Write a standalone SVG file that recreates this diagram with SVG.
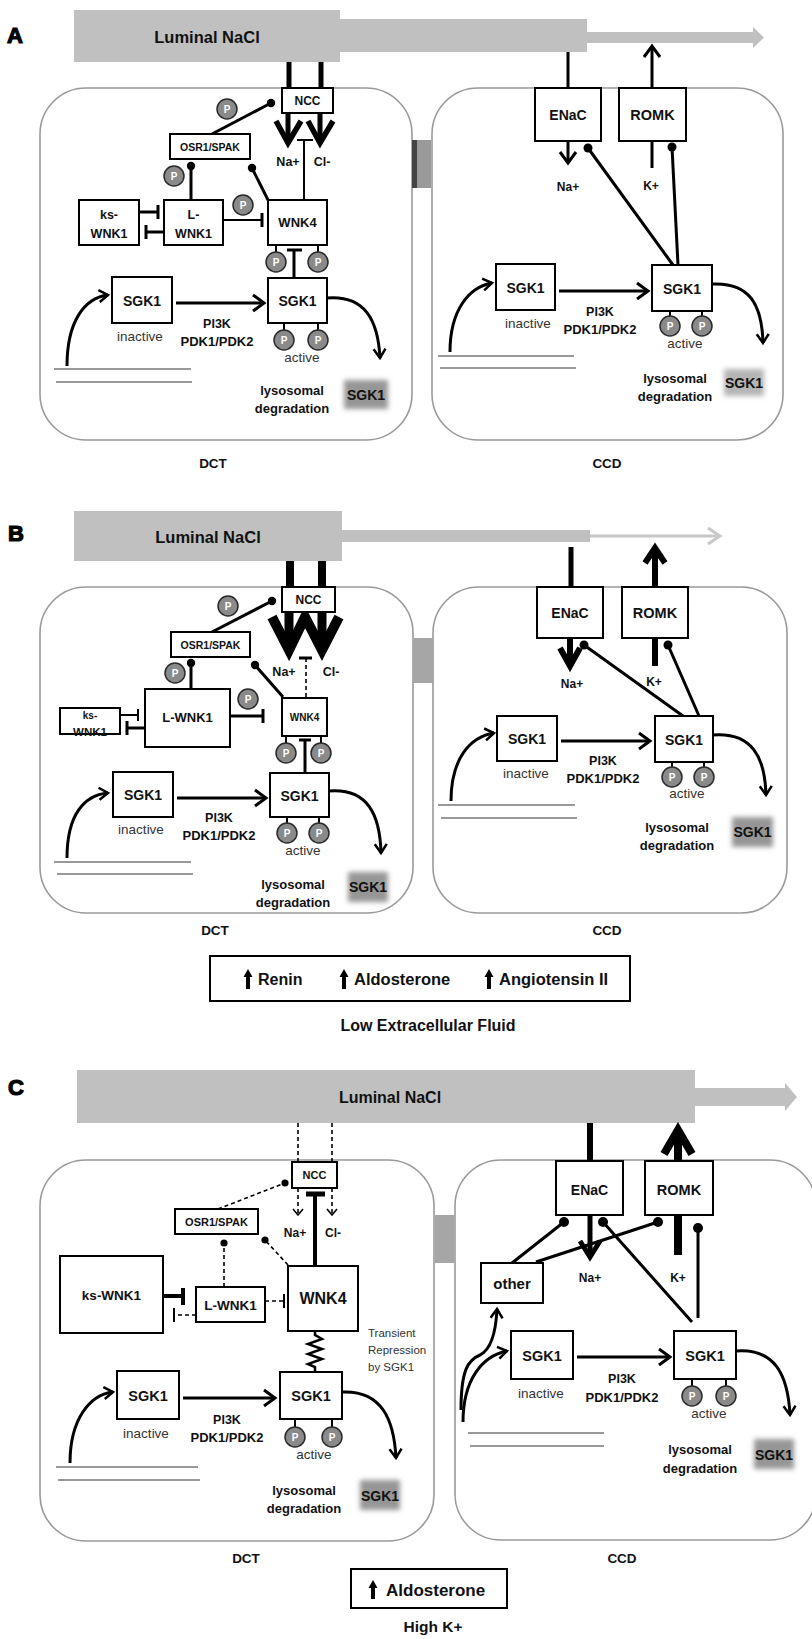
<svg xmlns="http://www.w3.org/2000/svg" width="812" height="1639" viewBox="0 0 812 1639">
<style>
.cell{fill:none;stroke:#9a9a9a;stroke-width:1.6}
.box{fill:#fff;stroke:#000;stroke-width:2}
.t{font-family:"Liberation Sans",Arial,sans-serif;font-weight:bold;fill:#111;text-anchor:middle}
.r{font-weight:normal;fill:#333}
.ln{stroke:#000;stroke-width:3;fill:none}
.thin{stroke:#000;stroke-width:2;fill:none}
.dash{stroke:#000;stroke-width:1.6;fill:none;stroke-dasharray:4 3}
.pc{fill:#8a8a8a;stroke:#2a2a2a;stroke-width:1.5}
.pt{fill:#fff;font-size:10px}
.bar{fill:#c0c0c0}
.deg{fill:#969696;filter:url(#blur)}
.dot{fill:#000}
.gl{stroke:#777;stroke-width:1.5}
.big{font-size:22px;text-anchor:start;fill:#000;stroke:#000;stroke-width:1.2}
</style>
<defs>
<filter id="blur" x="-30%" y="-30%" width="160%" height="160%"><feGaussianBlur stdDeviation="2.5"/></filter>
<marker id="arr" viewBox="-2 -2 16 20" refX="11" refY="8" markerWidth="16" markerHeight="20" markerUnits="userSpaceOnUse" orient="auto"><path d="M0,0 L11,8 L0,16" fill="none" stroke="#000" stroke-width="3"/></marker>
<marker id="arrs" viewBox="-2 -2 14 16" refX="9" refY="6" markerWidth="14" markerHeight="16" markerUnits="userSpaceOnUse" orient="auto"><path d="M0,0 L9,6 L0,12" fill="none" stroke="#000" stroke-width="2.5"/></marker>
<marker id="arrd" viewBox="-2 -2 12 14" refX="6" refY="5" markerWidth="12" markerHeight="14" markerUnits="userSpaceOnUse" orient="auto"><path d="M0,0 L6,5 L0,10" fill="none" stroke="#000" stroke-width="1.6"/></marker>
</defs>
<rect width="812" height="1639" fill="#fff"/>

<!-- ================= PANEL A ================= -->
<g id="panelA">
<text class="t big" x="7" y="43">A</text>
<g id="A-lumen">
<rect class="bar" x="74" y="10" width="266" height="52"/>
<rect class="bar" x="340" y="19" width="247" height="33"/>
<rect class="bar" x="587" y="32" width="166" height="11"/>
<polygon class="bar" points="753,27 764,37.5 753,48"/>
<text class="t" x="207" y="43" font-size="16.5">Luminal NaCl</text>
</g>
<rect id="A-dct" class="cell" x="40" y="88" width="372" height="352" rx="46"/>
<rect id="A-ccd" class="cell" x="432" y="88" width="351" height="352" rx="46"/>
<g id="A-junction"><rect x="412" y="140" width="19" height="48" fill="#9a9a9a"/><rect x="412" y="140" width="5" height="48" fill="#444"/></g>

<g id="A-connectors">
<line x1="289" y1="62" x2="289" y2="90" stroke="#000" stroke-width="5"/>
<line x1="321" y1="62" x2="321" y2="90" stroke="#000" stroke-width="5"/>
<line x1="288" y1="113" x2="288" y2="142" stroke="#000" stroke-width="5"/>
<line x1="320" y1="113" x2="320" y2="142" stroke="#000" stroke-width="5"/>
<polyline points="276,121 288,143 301,121" fill="none" stroke="#000" stroke-width="5.5"/>
<polyline points="308,121 320,143 333,121" fill="none" stroke="#000" stroke-width="5.5"/>
<line class="thin" x1="304" y1="200" x2="304" y2="140"/>
<line class="thin" x1="297" y1="140" x2="313" y2="140"/>
<line class="ln" x1="212" y1="134" x2="271" y2="103"/><circle class="dot" cx="271" cy="103" r="4.2"/>
<line class="ln" x1="191" y1="200" x2="191" y2="166"/><circle class="dot" cx="191" cy="166" r="4.2"/>
<line class="ln" x1="268" y1="200" x2="252" y2="168"/><circle class="dot" cx="252" cy="168" r="4.2"/>
<line class="ln" x1="139" y1="212" x2="158" y2="212" stroke-width="2.5"/><line class="ln" x1="158" y1="205" x2="158" y2="219"/>
<line class="ln" x1="164" y1="232" x2="146" y2="232"/><line class="ln" x1="146" y1="225" x2="146" y2="239" stroke-width="4"/>
<line class="thin" x1="223" y1="220" x2="262" y2="220"/><line class="ln" x1="262" y1="213" x2="262" y2="227" stroke-width="2.5"/>
<line class="ln" x1="294" y1="278" x2="294" y2="250"/><line class="ln" x1="287" y1="250" x2="302" y2="250"/>
<line class="ln" x1="176" y1="303" x2="264" y2="303" marker-end="url(#arr)"/>
<path class="ln" d="M67,366 C67,322 84,298 108,295" stroke-width="2.5" marker-end="url(#arrs)"/>
<path class="ln" d="M327,298 C365,295 378,320 380,358" stroke-width="2.5" marker-end="url(#arrs)"/>
<line class="gl" x1="54" y1="369" x2="191" y2="369"/><line class="gl" x1="56" y1="382" x2="192" y2="382"/>
<!-- CCD -->
<line class="ln" x1="568" y1="52" x2="568" y2="88"/>
<line class="ln" x1="652" y1="88" x2="652" y2="46" marker-end="url(#arr)"/>
<line class="ln" x1="568" y1="141" x2="568" y2="163" marker-end="url(#arr)"/>
<line class="ln" x1="652" y1="141" x2="652" y2="168"/>
<line class="ln" x1="673" y1="265" x2="588" y2="148"/><circle class="dot" cx="588" cy="148" r="4.5"/>
<line class="ln" x1="678" y1="265" x2="672" y2="147"/><circle class="dot" cx="672" cy="147" r="4.5"/>
<line class="ln" x1="559" y1="291" x2="648" y2="291" marker-end="url(#arr)"/>
<path class="ln" d="M450,352 C450,310 469,287 492,283" stroke-width="2.5" marker-end="url(#arrs)"/>
<path class="ln" d="M712,284 C750,282 762,305 763,343" stroke-width="2.5" marker-end="url(#arrs)"/>
<line class="gl" x1="438" y1="356" x2="574" y2="356"/><line class="gl" x1="440" y1="368" x2="576" y2="368"/>
</g>

<g id="A-NCC"><rect class="box" x="282" y="88" width="51" height="25"/><text class="t" x="307.5" y="105" font-size="12">NCC</text></g>
<g id="A-OSR1"><rect class="box" x="170" y="134" width="80" height="25"/><text class="t" x="210" y="151" font-size="10.5">OSR1/SPAK</text></g>
<g id="A-ksWNK1"><rect class="box" x="79" y="200" width="60" height="45"/><text class="t" x="109" y="219" font-size="12.5">ks-</text><text class="t" x="109" y="238" font-size="12.5">WNK1</text></g>
<g id="A-LWNK1"><rect class="box" x="164" y="200" width="59" height="45"/><text class="t" x="193.5" y="219" font-size="12.5">L-</text><text class="t" x="193.5" y="238" font-size="12.5">WNK1</text></g>
<g id="A-WNK4"><rect class="box" x="268" y="200" width="59" height="45"/><text class="t" x="297.5" y="227" font-size="13">WNK4</text>
<line class="thin" x1="276" y1="245" x2="276" y2="253" stroke-width="1.5"/><line class="thin" x1="318" y1="245" x2="318" y2="253" stroke-width="1.5"/></g>
<g id="A-SGK1in"><rect class="box" x="112" y="277" width="60" height="46"/><text class="t" x="142" y="306" font-size="14">SGK1</text><text class="t r" x="140" y="341" font-size="13.5">inactive</text></g>
<g id="A-SGK1act"><rect class="box" x="268" y="278" width="59" height="45"/><text class="t" x="297.5" y="306" font-size="14">SGK1</text>
<line class="thin" x1="284" y1="323" x2="284" y2="331" stroke-width="1.5"/><line class="thin" x1="318" y1="323" x2="318" y2="331" stroke-width="1.5"/>
<text class="t r" x="302" y="362" font-size="13.5">active</text></g>
<g id="A-pi3k"><text class="t" x="217" y="328" font-size="12.5">PI3K</text><text class="t" x="217" y="346" font-size="13">PDK1/PDK2</text></g>
<g id="A-deg"><text class="t" x="292" y="395" font-size="13">lysosomal</text><text class="t" x="292" y="413" font-size="13">degradation</text>
<rect class="deg" x="344" y="380" width="44" height="29"/><text class="t" x="366" y="400" font-size="14">SGK1</text></g>
<g id="A-P">
<circle class="pc" cx="227" cy="109" r="10"/><text class="t pt" x="227" y="112.5">P</text>
<circle class="pc" cx="174" cy="176" r="10"/><text class="t pt" x="174" y="179.5">P</text>
<circle class="pc" cx="243" cy="205" r="10"/><text class="t pt" x="243" y="208.5">P</text>
<circle class="pc" cx="276" cy="262" r="10"/><text class="t pt" x="276" y="265.5">P</text>
<circle class="pc" cx="318" cy="262" r="10"/><text class="t pt" x="318" y="265.5">P</text>
<circle class="pc" cx="284" cy="340" r="10"/><text class="t pt" x="284" y="343.5">P</text>
<circle class="pc" cx="318" cy="340" r="10"/><text class="t pt" x="318" y="343.5">P</text>
</g>
<text class="t" x="288" y="166" font-size="12.5">Na+</text><text class="t" x="322" y="166" font-size="12.5">Cl-</text>
<text class="t" x="213" y="468" font-size="13.5">DCT</text>

<g id="A-ENaC"><rect class="box" x="535" y="88" width="66" height="53"/><text class="t" x="568" y="120" font-size="14">ENaC</text></g>
<g id="A-ROMK"><rect class="box" x="619" y="88" width="67" height="53"/><text class="t" x="652.5" y="120" font-size="14.5">ROMK</text></g>
<text class="t" x="568" y="191" font-size="12">Na+</text><text class="t" x="651" y="190" font-size="12">K+</text>
<g id="A-SGK1in-r"><rect class="box" x="496" y="264" width="59" height="46"/><text class="t" x="525.5" y="293" font-size="14">SGK1</text><text class="t r" x="528" y="328" font-size="13.5">inactive</text></g>
<g id="A-SGK1act-r"><rect class="box" x="652" y="265" width="60" height="46"/><text class="t" x="682" y="294" font-size="14">SGK1</text>
<line class="thin" x1="670" y1="311" x2="670" y2="318" stroke-width="1.5"/><line class="thin" x1="702" y1="311" x2="702" y2="318" stroke-width="1.5"/>
<circle class="pc" cx="670" cy="326" r="10"/><text class="t pt" x="670" y="329.5">P</text>
<circle class="pc" cx="702" cy="326" r="10"/><text class="t pt" x="702" y="329.5">P</text>
<text class="t r" x="685" y="348" font-size="13.5">active</text></g>
<g id="A-pi3k-r"><text class="t" x="600" y="316" font-size="12.5">PI3K</text><text class="t" x="600" y="334" font-size="13">PDK1/PDK2</text></g>
<g id="A-deg-r"><text class="t" x="675" y="383" font-size="13">lysosomal</text><text class="t" x="675" y="401" font-size="13">degradation</text>
<rect class="deg" x="724" y="369" width="40" height="27" style="fill:#b5b5b5"/><text class="t" x="744" y="388" font-size="14">SGK1</text></g>
<text class="t" x="607" y="468" font-size="13.5">CCD</text>
</g>

<!-- ================= PANEL B ================= -->
<g id="panelB">
<text class="t big" x="8" y="541">B</text>
<g id="B-lumen">
<rect class="bar" x="74" y="511" width="268" height="50"/>
<rect class="bar" x="342" y="530" width="248" height="12"/>
<line x1="590" y1="536" x2="719" y2="536" stroke="#c8c8c8" stroke-width="3"/>
<polyline points="708,528 720,536 708,544" fill="none" stroke="#c8c8c8" stroke-width="3"/>
<text class="t" x="208" y="543" font-size="16.5">Luminal NaCl</text>
</g>
<rect id="B-dct" class="cell" x="40" y="587" width="373" height="326" rx="46"/>
<rect id="B-ccd" class="cell" x="433" y="587" width="354" height="326" rx="46"/>
<rect id="B-junction" x="413" y="638" width="20" height="45" fill="#a6a6a6"/>

<g id="B-connectors">
<line x1="290" y1="561" x2="290" y2="589" stroke="#000" stroke-width="8"/>
<line x1="322" y1="561" x2="322" y2="589" stroke="#000" stroke-width="8"/>
<line x1="289" y1="612" x2="289" y2="645" stroke="#000" stroke-width="9"/>
<line x1="322" y1="612" x2="322" y2="645" stroke="#000" stroke-width="9"/>
<polyline points="272,617 289,650 305,617 322,650 339,617" fill="none" stroke="#000" stroke-width="10" stroke-linejoin="miter" stroke-miterlimit="6"/>
<line class="dash" x1="306" y1="697" x2="306" y2="659" stroke-width="2"/>
<line class="ln" x1="299" y1="658" x2="312" y2="658"/>
<line class="ln" x1="212" y1="632" x2="272" y2="601"/><circle class="dot" cx="272" cy="601" r="4.2"/>
<line class="ln" x1="191" y1="689" x2="191" y2="663"/><circle class="dot" cx="191" cy="663" r="4.2"/>
<line class="ln" x1="283" y1="697" x2="255" y2="665"/><circle class="dot" cx="255" cy="665" r="4.2"/>
<line class="thin" x1="120" y1="715" x2="138" y2="715" stroke-width="1.5"/><line class="thin" x1="138" y1="709" x2="138" y2="721" stroke-width="1.5"/>
<line class="ln" x1="145" y1="728" x2="127" y2="728"/><line class="ln" x1="127" y1="721" x2="127" y2="735" stroke-width="4"/>
<line class="ln" x1="230" y1="716" x2="263" y2="716"/><line class="ln" x1="263" y1="709" x2="263" y2="723"/>
<line class="ln" x1="305" y1="773" x2="305" y2="740"/><line class="ln" x1="299" y1="740" x2="311" y2="740"/>
<line class="ln" x1="177" y1="798" x2="266" y2="798" marker-end="url(#arr)"/>
<path class="ln" d="M67,858 C67,815 84,795 108,793" stroke-width="2.5" marker-end="url(#arrs)"/>
<path class="ln" d="M329,791 C368,788 380,815 381,853" stroke-width="2.5" marker-end="url(#arrs)"/>
<line class="gl" x1="54" y1="862" x2="191" y2="862"/><line class="gl" x1="57" y1="874" x2="193" y2="874"/>
<!-- CCD -->
<line x1="571" y1="547" x2="571" y2="587" stroke="#000" stroke-width="5"/>
<line x1="655" y1="587" x2="655" y2="550" stroke="#000" stroke-width="6"/>
<polyline points="645,563 655,548 665,563" fill="none" stroke="#000" stroke-width="6"/>
<line x1="570" y1="638" x2="570" y2="664" stroke="#000" stroke-width="6"/>
<polyline points="560,648 570,666 580,648" fill="none" stroke="#000" stroke-width="6"/>
<line x1="655" y1="638" x2="655" y2="666" stroke="#000" stroke-width="6"/>
<line class="ln" x1="683" y1="716" x2="584" y2="645"/><circle class="dot" cx="584" cy="645" r="4.5"/>
<line class="ln" x1="699" y1="716" x2="668" y2="645"/><circle class="dot" cx="668" cy="645" r="4.5"/>
<line class="ln" x1="561" y1="741" x2="650" y2="741" marker-end="url(#arr)"/>
<path class="ln" d="M451,801 C451,760 469,737 494,733" stroke-width="2.5" marker-end="url(#arrs)"/>
<path class="ln" d="M713,735 C752,732 765,757 766,795" stroke-width="2.5" marker-end="url(#arrs)"/>
<line class="gl" x1="438" y1="805" x2="575" y2="805"/><line class="gl" x1="441" y1="818" x2="577" y2="818"/>
</g>

<g id="B-NCC"><rect class="box" x="282" y="587" width="53" height="25"/><text class="t" x="308.5" y="604" font-size="12">NCC</text></g>
<g id="B-OSR1"><rect class="box" x="171" y="632" width="79" height="25"/><text class="t" x="210.5" y="649" font-size="10.5">OSR1/SPAK</text></g>
<g id="B-ksWNK1"><rect class="box" x="60" y="708" width="60" height="26"/><text class="t" x="90" y="719" font-size="10">ks-</text><text class="t" x="90" y="736" font-size="11.5">WNK1</text></g>
<g id="B-LWNK1"><rect class="box" x="145" y="689" width="85" height="58"/><text class="t" x="187.5" y="722" font-size="13">L-WNK1</text></g>
<g id="B-WNK4"><rect class="box" x="282" y="698" width="45" height="38"/><text class="t" x="304.5" y="721" font-size="10">WNK4</text>
<line class="thin" x1="286" y1="736" x2="286" y2="744" stroke-width="1.5"/><line class="thin" x1="321" y1="736" x2="321" y2="744" stroke-width="1.5"/></g>
<g id="B-SGK1in"><rect class="box" x="113" y="772" width="60" height="45"/><text class="t" x="143" y="800" font-size="14">SGK1</text><text class="t r" x="141" y="834" font-size="13.5">inactive</text></g>
<g id="B-SGK1act"><rect class="box" x="270" y="773" width="59" height="44"/><text class="t" x="299.5" y="801" font-size="14">SGK1</text>
<line class="thin" x1="287" y1="817" x2="287" y2="824" stroke-width="1.5"/><line class="thin" x1="319" y1="817" x2="319" y2="824" stroke-width="1.5"/>
<text class="t r" x="303" y="855" font-size="13.5">active</text></g>
<g id="B-pi3k"><text class="t" x="219" y="822" font-size="12.5">PI3K</text><text class="t" x="219" y="840" font-size="13">PDK1/PDK2</text></g>
<g id="B-deg"><text class="t" x="293" y="889" font-size="13">lysosomal</text><text class="t" x="293" y="907" font-size="13">degradation</text>
<rect class="deg" x="348" y="872" width="40" height="30"/><text class="t" x="368" y="892" font-size="14">SGK1</text></g>
<g id="B-P">
<circle class="pc" cx="228" cy="606" r="10"/><text class="t pt" x="228" y="609.5">P</text>
<circle class="pc" cx="175" cy="673" r="10"/><text class="t pt" x="175" y="676.5">P</text>
<circle class="pc" cx="248" cy="699" r="10"/><text class="t pt" x="248" y="702.5">P</text>
<circle class="pc" cx="286" cy="753" r="10"/><text class="t pt" x="286" y="756.5">P</text>
<circle class="pc" cx="321" cy="753" r="10"/><text class="t pt" x="321" y="756.5">P</text>
<circle class="pc" cx="287" cy="833" r="10"/><text class="t pt" x="287" y="836.5">P</text>
<circle class="pc" cx="319" cy="833" r="10"/><text class="t pt" x="319" y="836.5">P</text>
</g>
<text class="t" x="284" y="676" font-size="12.5">Na+</text><text class="t" x="331" y="676" font-size="12.5">Cl-</text>
<text class="t" x="215" y="935" font-size="13.5">DCT</text>

<g id="B-ENaC"><rect class="box" x="537" y="587" width="66" height="51"/><text class="t" x="570" y="618" font-size="14">ENaC</text></g>
<g id="B-ROMK"><rect class="box" x="622" y="587" width="66" height="51"/><text class="t" x="655" y="618" font-size="14.5">ROMK</text></g>
<text class="t" x="572" y="688" font-size="12">Na+</text><text class="t" x="654" y="686" font-size="12">K+</text>
<g id="B-SGK1in-r"><rect class="box" x="497" y="716" width="60" height="45"/><text class="t" x="527" y="744" font-size="14">SGK1</text><text class="t r" x="526" y="778" font-size="13.5">inactive</text></g>
<g id="B-SGK1act-r"><rect class="box" x="655" y="716" width="58" height="46"/><text class="t" x="684" y="745" font-size="14">SGK1</text>
<line class="thin" x1="672" y1="762" x2="672" y2="768" stroke-width="1.5"/><line class="thin" x1="704" y1="762" x2="704" y2="768" stroke-width="1.5"/>
<circle class="pc" cx="672" cy="777" r="10"/><text class="t pt" x="672" y="780.5">P</text>
<circle class="pc" cx="704" cy="777" r="10"/><text class="t pt" x="704" y="780.5">P</text>
<text class="t r" x="687" y="798" font-size="13.5">active</text></g>
<g id="B-pi3k-r"><text class="t" x="603" y="765" font-size="12.5">PI3K</text><text class="t" x="603" y="783" font-size="13">PDK1/PDK2</text></g>
<g id="B-deg-r"><text class="t" x="677" y="832" font-size="13">lysosomal</text><text class="t" x="677" y="850" font-size="13">degradation</text>
<rect class="deg" x="732" y="817" width="41" height="30"/><text class="t" x="752.5" y="837" font-size="14">SGK1</text></g>
<text class="t" x="607" y="935" font-size="13.5">CCD</text>

<g id="B-legend">
<rect x="210" y="956" width="420" height="45" fill="#fff" stroke="#000" stroke-width="2"/>
<path d="M246,989 V977 H243.5 L248,969 L252.5,977 H250 V989 Z" fill="#000"/>
<path d="M342,989 V977 H339.5 L344,969 L348.5,977 H346 V989 Z" fill="#000"/>
<path d="M487,989 V977 H484.5 L489,969 L493.5,977 H491 V989 Z" fill="#000"/>
<text class="t" x="258" y="985" font-size="16" style="text-anchor:start">Renin</text>
<text class="t" x="354" y="985" font-size="16.5" style="text-anchor:start">Aldosterone</text>
<text class="t" x="499" y="985" font-size="16.5" style="text-anchor:start">Angiotensin II</text>
</g>
<text class="t" x="428" y="1031" font-size="16">Low Extracellular Fluid</text>
</g>

<!-- ================= PANEL C ================= -->
<g id="panelC">
<text class="t big" x="8" y="1095">C</text>
<g id="C-lumen">
<rect class="bar" x="77" y="1070" width="618" height="53"/>
<rect class="bar" x="695" y="1088" width="90" height="18"/>
<polygon class="bar" points="785,1083 797,1097 785,1111"/>
<text class="t" x="390" y="1103" font-size="16">Luminal NaCl</text>
</g>
<rect id="C-dct" class="cell" x="40" y="1160" width="394" height="381" rx="46"/>
<rect id="C-ccd" class="cell" x="455" y="1160" width="361" height="380" rx="46"/>
<rect id="C-junction" x="435" y="1215" width="19" height="48" fill="#a6a6a6"/>

<g id="C-connectors">
<line class="dash" x1="298" y1="1123" x2="298" y2="1162"/>
<line class="dash" x1="332" y1="1123" x2="332" y2="1162"/>
<line class="dash" x1="298" y1="1188" x2="298" y2="1215" marker-end="url(#arrd)"/>
<line class="dash" x1="332" y1="1188" x2="332" y2="1215" marker-end="url(#arrd)"/>
<line x1="315" y1="1266" x2="315" y2="1194" stroke="#000" stroke-width="4"/>
<line x1="306" y1="1194" x2="325" y2="1194" stroke="#000" stroke-width="5"/>
<line class="dash" x1="218" y1="1209" x2="285" y2="1183"/><circle class="dot" cx="285" cy="1183" r="3.6"/>
<line class="dash" x1="224" y1="1287" x2="224" y2="1243"/><circle class="dot" cx="224" cy="1243" r="3.6"/>
<line class="dash" x1="288" y1="1265" x2="265" y2="1240"/><circle class="dot" cx="265" cy="1240" r="3.6"/>
<line x1="163" y1="1296" x2="182" y2="1296" stroke="#000" stroke-width="4"/><line x1="183" y1="1288" x2="183" y2="1305" stroke="#000" stroke-width="4"/>
<line class="dash" x1="196" y1="1315" x2="175" y2="1315"/><line class="thin" x1="174" y1="1308" x2="174" y2="1322" stroke-width="1.6"/>
<line class="dash" x1="265" y1="1301" x2="283" y2="1301"/><line class="thin" x1="284" y1="1294" x2="284" y2="1308" stroke-width="1.6"/>
<path d="M315,1331 L315,1335 L322,1339 L308,1344 L322,1349 L308,1354 L322,1359 L308,1364 L315,1367 L315,1372" fill="none" stroke="#000" stroke-width="2.5"/>
<line class="ln" x1="183" y1="1398" x2="275" y2="1398" marker-end="url(#arr)"/>
<path class="ln" d="M70,1463 C70,1420 89,1395 113,1392" stroke-width="2.5" marker-end="url(#arrs)"/>
<path class="ln" d="M342,1392 C382,1390 394,1420 396,1458" stroke-width="2.5" marker-end="url(#arrs)"/>
<line class="gl" x1="56" y1="1467" x2="198" y2="1467"/><line class="gl" x1="58" y1="1480" x2="200" y2="1480"/>
<!-- CCD -->
<line x1="590" y1="1123" x2="590" y2="1161" stroke="#000" stroke-width="6"/>
<line x1="678" y1="1161" x2="678" y2="1132" stroke="#000" stroke-width="8"/>
<polyline points="664,1154 678,1130 692,1154" fill="none" stroke="#000" stroke-width="8"/>
<line x1="590" y1="1215" x2="590" y2="1254" stroke="#000" stroke-width="5"/>
<polyline points="580,1241 590,1257 600,1241" fill="none" stroke="#000" stroke-width="5"/>
<line x1="678" y1="1215" x2="678" y2="1255" stroke="#000" stroke-width="8"/>
<line class="ln" x1="512" y1="1263" x2="564" y2="1222" stroke-width="4"/><circle class="dot" cx="564" cy="1222" r="5"/>
<line class="ln" x1="536" y1="1262" x2="658" y2="1222" stroke-width="4"/><circle class="dot" cx="658" cy="1222" r="5"/>
<line class="ln" x1="692" y1="1322" x2="603" y2="1222" stroke-width="4"/><circle class="dot" cx="603" cy="1222" r="5"/>
<line class="ln" x1="698" y1="1318" x2="698" y2="1228" stroke-width="4"/><circle class="dot" cx="698" cy="1228" r="5"/>
<line class="ln" x1="577" y1="1357" x2="670" y2="1357" marker-end="url(#arr)"/>
<path class="ln" d="M463,1422 C463,1380 482,1356 507,1351" stroke-width="2.5" marker-end="url(#arrs)"/>
<path class="ln" d="M461,1410 C461,1370 468,1360 480,1355 C492,1349 496,1330 497,1309" stroke-width="2.5" marker-end="url(#arrs)"/>
<path class="ln" d="M736,1351 C775,1348 788,1375 790,1415" stroke-width="2.5" marker-end="url(#arrs)"/>
<line class="gl" x1="468" y1="1433" x2="604" y2="1433"/><line class="gl" x1="470" y1="1446" x2="604" y2="1446"/>
</g>

<g id="C-NCC"><rect class="box" x="292" y="1162" width="45" height="26"/><text class="t" x="314.5" y="1179" font-size="11">NCC</text></g>
<g id="C-OSR1"><rect class="box" x="175" y="1209" width="83" height="25"/><text class="t" x="216.5" y="1226" font-size="11">OSR1/SPAK</text></g>
<g id="C-ksWNK1"><rect class="box" x="60" y="1256" width="103" height="77"/><text class="t" x="111.5" y="1300" font-size="13.5">ks-WNK1</text></g>
<g id="C-LWNK1"><rect class="box" x="196" y="1287" width="69" height="35"/><text class="t" x="230.5" y="1310" font-size="13.5">L-WNK1</text></g>
<g id="C-WNK4"><rect class="box" x="288" y="1266" width="70" height="65"/><text class="t" x="323" y="1304" font-size="16">WNK4</text></g>
<g id="C-transient"><text class="t r" x="368" y="1337" font-size="11.5" style="text-anchor:start">Transient</text><text class="t r" x="368" y="1354" font-size="11.5" style="text-anchor:start">Repression</text><text class="t r" x="368" y="1371" font-size="11.5" style="text-anchor:start">by SGK1</text></g>
<text class="t" x="295" y="1237" font-size="12">Na+</text><text class="t" x="333" y="1237" font-size="12">Cl-</text>
<g id="C-SGK1in"><rect class="box" x="117" y="1371" width="62" height="48"/><text class="t" x="148" y="1401" font-size="14.5">SGK1</text><text class="t r" x="146" y="1438" font-size="13.5">inactive</text></g>
<g id="C-SGK1act"><rect class="box" x="280" y="1372" width="62" height="47"/><text class="t" x="311" y="1401" font-size="14.5">SGK1</text>
<line class="thin" x1="295" y1="1419" x2="295" y2="1427" stroke-width="1.5"/><line class="thin" x1="332" y1="1419" x2="332" y2="1427" stroke-width="1.5"/>
<circle class="pc" cx="295" cy="1437" r="10"/><text class="t pt" x="295" y="1440.5">P</text>
<circle class="pc" cx="332" cy="1437" r="10"/><text class="t pt" x="332" y="1440.5">P</text>
<text class="t r" x="314" y="1459" font-size="13.5">active</text></g>
<g id="C-pi3k"><text class="t" x="227" y="1424" font-size="12.5">PI3K</text><text class="t" x="227" y="1442" font-size="13">PDK1/PDK2</text></g>
<g id="C-deg"><text class="t" x="304" y="1495" font-size="13">lysosomal</text><text class="t" x="304" y="1513" font-size="13">degradation</text>
<rect class="deg" x="360" y="1480" width="40" height="30"/><text class="t" x="380" y="1501" font-size="14">SGK1</text></g>
<text class="t" x="246" y="1563" font-size="13.5">DCT</text>

<g id="C-ENaC"><rect class="box" x="556" y="1161" width="67" height="54"/><text class="t" x="589.5" y="1195" font-size="14">ENaC</text></g>
<g id="C-ROMK"><rect class="box" x="645" y="1161" width="68" height="54"/><text class="t" x="679" y="1195" font-size="14.5">ROMK</text></g>
<g id="C-other"><rect class="box" x="481" y="1263" width="62" height="40"/><text class="t" x="512" y="1289" font-size="15">other</text></g>
<text class="t" x="590" y="1282" font-size="12">Na+</text><text class="t" x="678" y="1282" font-size="12">K+</text>
<g id="C-SGK1in-r"><rect class="box" x="511" y="1331" width="62" height="48"/><text class="t" x="542" y="1361" font-size="14.5">SGK1</text><text class="t r" x="541" y="1398" font-size="13.5">inactive</text></g>
<g id="C-SGK1act-r"><rect class="box" x="674" y="1331" width="62" height="48"/><text class="t" x="705" y="1361" font-size="14.5">SGK1</text>
<line class="thin" x1="692" y1="1379" x2="692" y2="1386" stroke-width="1.5"/><line class="thin" x1="726" y1="1379" x2="726" y2="1386" stroke-width="1.5"/>
<circle class="pc" cx="692" cy="1396" r="10"/><text class="t pt" x="692" y="1399.5">P</text>
<circle class="pc" cx="726" cy="1396" r="10"/><text class="t pt" x="726" y="1399.5">P</text>
<text class="t r" x="709" y="1418" font-size="13.5">active</text></g>
<g id="C-pi3k-r"><text class="t" x="622" y="1383" font-size="12.5">PI3K</text><text class="t" x="622" y="1402" font-size="13">PDK1/PDK2</text></g>
<g id="C-deg-r"><text class="t" x="700" y="1454" font-size="13">lysosomal</text><text class="t" x="700" y="1473" font-size="13">degradation</text>
<rect class="deg" x="754" y="1439" width="40" height="30"/><text class="t" x="774" y="1460" font-size="14">SGK1</text></g>
<text class="t" x="622" y="1563" font-size="13.5">CCD</text>

<g id="C-legend">
<rect x="351" y="1569" width="156" height="39" fill="#fff" stroke="#000" stroke-width="2"/>
<path d="M371,1599 V1588 H368.5 L373,1580 L377.5,1588 H375 V1599 Z" fill="#000"/>
<text class="t" x="386" y="1596" font-size="17" style="text-anchor:start">Aldosterone</text>
</g>
<text class="t" x="433" y="1632" font-size="15.5">High K+</text>
</g>
</svg>
